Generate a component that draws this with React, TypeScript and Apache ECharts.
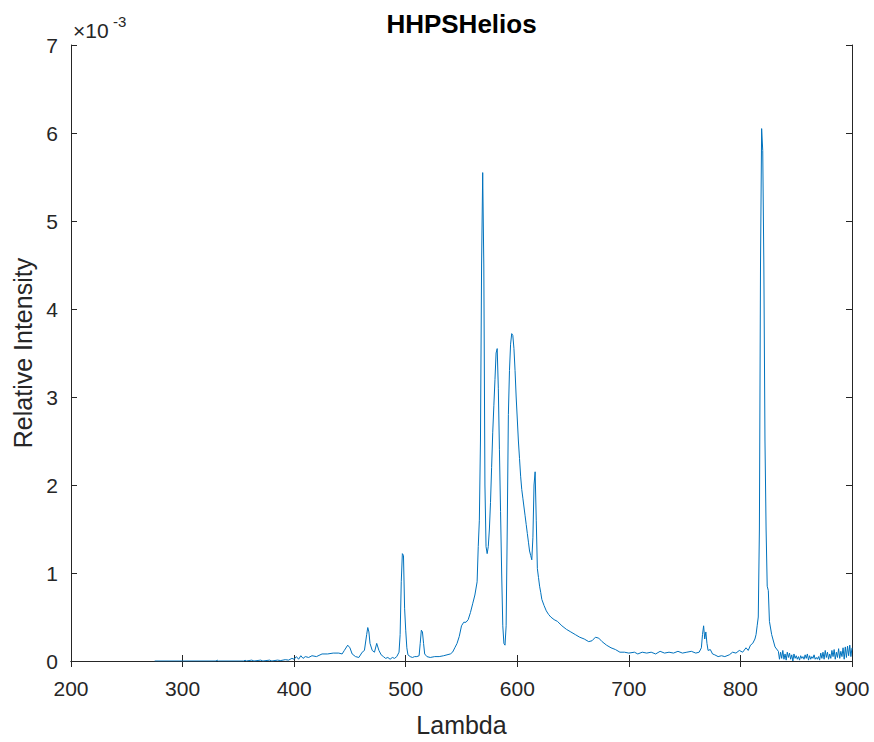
import React, { useEffect, useRef } from "react";
import * as echarts from "echarts";

// Wavelength samples (nm) and relative intensity (units of 1e-3)
const lambda: number[] = [
  275, 300, 330, 331, 332, 355, 356, 357, 362, 364, 370, 372, 378, 380, 385, 388, 392, 395, 398, 400,
  402, 404, 406, 408, 410, 413, 416, 420, 425, 430, 435, 440, 443, 445, 448, 450, 452, 455, 458, 461,
  463, 465, 466, 467, 468, 470, 472, 474, 476, 478, 480, 482, 484, 486, 488, 490, 492, 494, 495, 496,
  497, 498, 499, 500, 501, 502, 504, 506, 508, 510, 512, 513, 514, 515, 516, 517, 519, 522, 526, 530,
  534, 537, 540, 542, 544, 546, 548, 550, 552, 554, 556, 558, 560, 562, 564, 565, 566, 567, 568, 569,
  570, 571, 572, 573, 574, 575, 576, 577, 578, 579, 580, 581, 582, 583, 584, 585, 586, 587, 588, 589,
  590, 591, 592, 593, 594, 595, 596, 597, 598, 599, 600, 601, 602, 603, 604, 605, 606, 607, 608, 609,
  610, 611, 612, 613, 614, 615, 616, 617, 618, 619, 620, 621, 622, 624, 626, 628, 630, 633, 636, 640,
  644, 648, 652, 656, 660, 664, 667, 670, 673, 676, 680, 684, 688, 692, 696, 700, 705, 708, 712, 716,
  720, 724, 728, 732, 736, 740, 744, 748, 752, 756, 760, 763, 765, 766, 767, 768, 769, 770, 771, 773,
  775, 777, 780, 783, 786, 790, 793, 796, 799, 802, 805, 807, 809, 811, 813, 814, 815, 816, 817, 818,
  819, 820, 821, 822, 823, 824, 825, 826, 828, 831, 834,
  835, 836, 837, 838, 839, 840, 841, 842, 843, 844, 845, 846, 847, 848, 849, 850, 851, 852, 853, 854,
  855, 856, 857, 858, 859, 860, 861, 862, 863, 864, 865, 866, 867, 868, 869, 870, 871, 872, 873, 874,
  875, 876, 877, 878, 879, 880, 881, 882, 883, 884, 885, 886, 887, 888, 889, 890, 891, 892, 893, 894,
  895, 896, 897, 898, 899, 900,
];

const intensityE3: number[] = [
  0, 0, 0, 0.01, 0, 0, 0.01, 0, 0.01, 0, 0.01, 0, 0.01, 0, 0.01, 0.005, 0.015, 0.01, 0.03, 0.02,
  0.05, 0.02, 0.06, 0.03, 0.05, 0.04, 0.06, 0.05, 0.08, 0.08, 0.09, 0.09, 0.08, 0.12, 0.18, 0.15, 0.08, 0.05, 0.04, 0.1,
  0.12, 0.3, 0.38, 0.33, 0.2, 0.12, 0.1, 0.2, 0.12, 0.07, 0.05, 0.03, 0.04, 0.02, 0.04, 0.03, 0.05, 0.1, 0.3, 0.9,
  1.22, 1.2, 0.6, 0.35, 0.15, 0.07, 0.05, 0.04, 0.05, 0.05, 0.06, 0.2, 0.35, 0.33, 0.2, 0.08, 0.05, 0.04, 0.05, 0.05,
  0.06, 0.07, 0.08, 0.1, 0.15, 0.2, 0.28, 0.4, 0.44, 0.44, 0.47, 0.55, 0.65, 0.75, 0.9, 1.3, 1.6, 2.5, 4.5, 5.55,
  4.5, 2.0, 1.3, 1.22, 1.3, 1.5, 1.8, 2.2, 2.6, 2.9, 3.2, 3.5, 3.55, 3.1, 2.4, 1.7, 1.0, 0.4, 0.2, 0.18,
  0.4, 1.5, 2.8, 3.3, 3.6, 3.72, 3.7, 3.55, 3.3, 3.0, 2.75, 2.5, 2.3, 2.1, 1.95, 1.85, 1.75, 1.65, 1.55, 1.45,
  1.35, 1.25, 1.2, 1.15, 1.4, 2.0, 2.15, 1.6, 1.05, 0.95, 0.85, 0.78, 0.7, 0.63, 0.57, 0.53, 0.5, 0.47, 0.45, 0.4,
  0.36, 0.33, 0.3, 0.27, 0.25, 0.22, 0.23, 0.27, 0.26, 0.22, 0.18, 0.15, 0.13, 0.1, 0.1, 0.09, 0.1, 0.08, 0.1, 0.09,
  0.1, 0.08, 0.11, 0.09, 0.1, 0.09, 0.11, 0.09, 0.1, 0.11, 0.09, 0.1, 0.15, 0.3, 0.4, 0.25, 0.33, 0.2, 0.12, 0.13,
  0.08, 0.07, 0.05, 0.06, 0.05, 0.07, 0.1, 0.09, 0.12, 0.1, 0.15, 0.12, 0.18, 0.2, 0.25, 0.3, 0.4, 0.5, 1.5, 4.5,
  6.05, 5.8, 4.5, 2.5, 1.5, 0.85, 0.8, 0.45, 0.3, 0.16, 0.11,
  0.02, 0.1, 0.03, 0.12, 0.02, 0.08, 0.01, 0.1, 0.04, 0.09, 0.02, 0.07, 0.0, 0.08, 0.03, 0.06, 0.02, 0.05, 0.01, 0.06,
  0.03, 0.05, 0.02, 0.07, 0.03, 0.08, 0.01, 0.06, 0.02, 0.05, 0.03, 0.07, 0.02, 0.04, 0.02, 0.05, 0.01, 0.09, 0.03, 0.1,
  0.02, 0.12, 0.04, 0.1, 0.02, 0.08, 0.03, 0.12, 0.05, 0.13, 0.02, 0.1, 0.04, 0.14, 0.03, 0.11, 0.05, 0.15, 0.02, 0.16,
  0.04, 0.17, 0.06, 0.18, 0.05, 0.15,
];

const xTicks = { min: 200, max: 900, interval: 100 };
const yTicks = { min: 0, max: 7, interval: 1 };

const FONT = '"Liberation Sans", Arial, Helvetica, sans-serif';
const TXT = "#262626";

export default function App() {
  const ref = useRef<HTMLDivElement>(null);

  useEffect(() => {
    if (!ref.current) return;
    const chart = echarts.init(ref.current, undefined, { renderer: "svg" });
    const data = lambda.map((l, i) => [l, intensityE3[i]]);
    const axisLine = { show: true, lineStyle: { color: TXT, width: 1 } };
    const tick = { show: true, inside: true, length: 6, lineStyle: { color: TXT, width: 1 } };
    chart.setOption({
      animation: false,
      backgroundColor: "#ffffff",
      grid: { left: 71, right: 22, top: 45, bottom: 80, containLabel: false },
      xAxis: [
        {
          type: "value",
          ...xTicks,
          name: "Lambda",
          nameLocation: "middle",
          nameGap: 51,
          nameTextStyle: { fontFamily: FONT, fontSize: 25, color: TXT },
          axisLine,
          axisTick: tick,
          splitLine: { show: false },
          axisLabel: { fontFamily: FONT, fontSize: 21, color: TXT, margin: 17 },
        },
        {
          type: "value",
          position: "top",
          ...xTicks,
          axisLine,
          axisTick: tick,
          splitLine: { show: false },
          axisLabel: { show: false },
        },
      ],
      yAxis: [
        {
          type: "value",
          ...yTicks,
          name: "Relative Intensity",
          nameLocation: "middle",
          nameGap: 36,
          nameRotate: 90,
          nameTextStyle: { fontFamily: FONT, fontSize: 25, color: TXT },
          axisLine,
          axisTick: tick,
          splitLine: { show: false },
          axisLabel: { fontFamily: FONT, fontSize: 21, color: TXT, margin: 13 },
        },
        {
          type: "value",
          position: "right",
          ...yTicks,
          axisLine,
          axisTick: tick,
          splitLine: { show: false },
          axisLabel: { show: false },
        },
      ],
      graphic: [
        {
          type: "text",
          x: 461.5,
          y: 23.5,
          style: {
            text: "HHPSHelios",
            fontFamily: FONT,
            fontSize: 26,
            fontWeight: "bold",
            fill: "#000000",
            align: "center",
            verticalAlign: "middle",
          },
        },
        {
          type: "text",
          x: 73,
          y: 30,
          style: {
            text: "×10",
            fontFamily: FONT,
            fontSize: 21,
            fill: TXT,
            align: "left",
            verticalAlign: "middle",
          },
        },
        {
          type: "text",
          x: 113,
          y: 21,
          style: {
            text: "-3",
            fontFamily: FONT,
            fontSize: 15,
            fill: TXT,
            align: "left",
            verticalAlign: "middle",
          },
        },
      ],
      series: [
        {
          type: "line",
          xAxisIndex: 0,
          yAxisIndex: 0,
          data,
          showSymbol: false,
          symbol: "none",
          lineStyle: { color: "#0072BD", width: 1 },
          clip: true,
        },
      ],
    });
    return () => chart.dispose();
  }, []);

  return (
    <div
      ref={ref}
      style={{ position: "absolute", left: 0, top: 0, width: 874, height: 742 }}
    />
  );
}
